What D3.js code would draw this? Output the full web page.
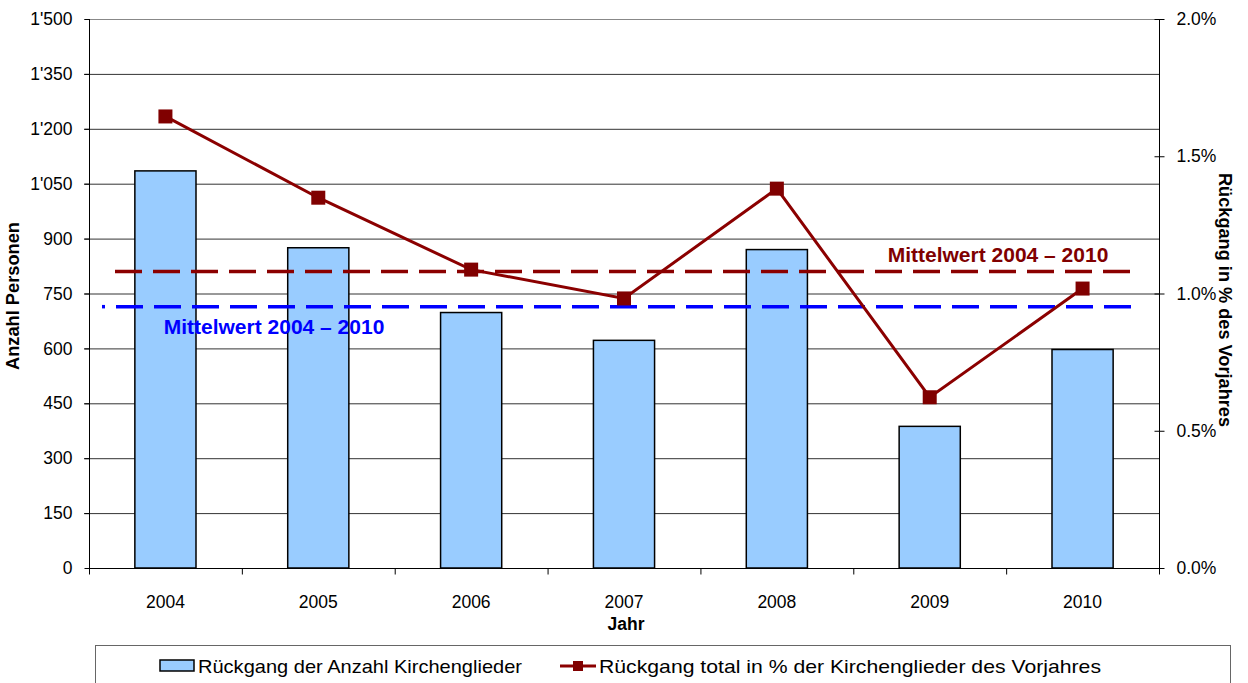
<!DOCTYPE html>
<html>
<head>
<meta charset="utf-8">
<script src="https://cdn.jsdelivr.net/npm/d3@7"></script>
<style>
  body { margin: 0; background: #fff; }
  svg { font-family: "Liberation Sans", Arial, sans-serif; }
</style>
</head>
<body>
<svg id="chart" width="1248" height="683"></svg>
<script>
// data
const years = ["2004", "2005", "2006", "2007", "2008", "2009", "2010"]
const decreaseCount = [1085, 875, 698, 622, 870, 387, 597]
const decreasePct = [1.645, 1.349, 1.087, 0.982, 1.382, 0.622, 1.018]
const meanCount = 714
const meanPct = 1.08
const leftTicks = [0, 150, 300, 450, 600, 750, 900, 1050, 1200, 1350, 1500]
const rightTicks = [0, 0.5, 1.0, 1.5, 2.0]
const meanLabel = "Mittelwert 2004 – 2010"
const legendLabels = ["Rückgang der Anzahl Kirchenglieder", "Rückgang total in % der Kirchenglieder des Vorjahres"]

const svg = d3.select("#chart")
const m = {left: 89, right: 1159, top: 19, bottom: 568}

const x = d3.scaleBand().domain(years).range([m.left, m.right]).paddingInner(0.6).paddingOuter(0.3)
const xBand = d3.scaleBand().domain(years).range([m.left, m.right])
const yL = d3.scaleLinear().domain([0, 1500]).range([m.bottom, m.top])
const yR = d3.scaleLinear().domain([0, 2]).range([m.bottom, m.top])

const fmtL = d => d >= 1000 ? Math.floor(d / 1000) + "'" + d3.format("03d")(d % 1000) : String(d)

// gridlines
svg.append("g").selectAll("line")
  .data(leftTicks.slice(1))
  .enter().append("line")
    .attr("x1", m.left - 5).attr("x2", m.right)
    .attr("y1", d => yL(d) + 0.5).attr("y2", d => yL(d) + 0.5)
    .attr("stroke", d => d === 1500 ? "#888" : "#333")
    .attr("stroke-width", 1)

// left axis
const gL = svg.append("g").attr("transform", `translate(${m.left + 0.5},0)`)
  .call(d3.axisLeft(yL).tickValues(leftTicks).tickFormat(fmtL).tickSize(5).tickPadding(12))
gL.select(".domain").attr("stroke", "#000").attr("d", `M0,${m.top}V${m.bottom}`)
gL.selectAll("text").attr("font-size", 17.5).attr("fill", "#000")
  .attr("font-family", "Liberation Sans, Arial, sans-serif")

// right axis
const gR = svg.append("g").attr("transform", `translate(${m.right + 0.5},0)`)
  .call(d3.axisRight(yR).tickValues(rightTicks).tickFormat(d => d.toFixed(1) + "%").tickSize(5).tickPadding(12))
gR.select(".domain").attr("stroke", "#000").attr("d", `M0,${m.top}V${m.bottom + 5}`)
gR.selectAll(".tick line").attr("x1", -5).attr("x2", 5)
gR.selectAll("text").attr("font-size", 17.5).attr("fill", "#000")
  .attr("font-family", "Liberation Sans, Arial, sans-serif")

// x axis
const gX = svg.append("g").attr("transform", `translate(0,${m.bottom + 0.5})`)
gX.append("line").attr("x1", m.left).attr("x2", m.right).attr("stroke", "#000")
gX.selectAll(".tk").data(years.concat(["end"])).enter().append("line")
  .attr("x1", (d, i) => m.left + i * xBand.bandwidth() + 0.5)
  .attr("x2", (d, i) => m.left + i * xBand.bandwidth() + 0.5)
  .attr("y1", 0).attr("y2", 6).attr("stroke", "#000")
gX.selectAll("text").data(years).enter().append("text")
  .attr("x", d => xBand(d) + xBand.bandwidth() / 2)
  .attr("y", 39).attr("text-anchor", "middle").attr("font-size", 17.5)
  .text(d => d)

// bars
svg.append("g").selectAll("rect")
  .data(years)
  .enter().append("rect")
    .attr("x", d => x(d))
    .attr("y", (d, i) => yL(decreaseCount[i]))
    .attr("width", x.bandwidth())
    .attr("height", (d, i) => m.bottom - yL(decreaseCount[i]))
    .attr("fill", "#99ccff")
    .attr("stroke", "#000")
    .attr("stroke-width", 1.5)

// mean lines
svg.append("line")
  .attr("x1", 115).attr("x2", 1137)
  .attr("y1", yR(meanPct)).attr("y2", yR(meanPct))
  .attr("stroke", "#8b0000").attr("stroke-width", 3.5).attr("stroke-dasharray", "27,11")
svg.append("line")
  .attr("x1", 102).attr("x2", 105)
  .attr("y1", yL(meanCount)).attr("y2", yL(meanCount))
  .attr("stroke", "#0000ff").attr("stroke-width", 3.5)
svg.append("line")
  .attr("x1", 116).attr("x2", 1137)
  .attr("y1", yL(meanCount)).attr("y2", yL(meanCount))
  .attr("stroke", "#0000ff").attr("stroke-width", 3.5).attr("stroke-dasharray", "27,11")

svg.append("text").attr("x", 998).attr("y", yR(meanPct) - 10)
  .attr("text-anchor", "middle").attr("font-size", 21).attr("font-weight", "bold")
  .attr("fill", "#800000").text(meanLabel)
svg.append("text").attr("x", 274).attr("y", yL(meanCount) + 27)
  .attr("text-anchor", "middle").attr("font-size", 21).attr("font-weight", "bold")
  .attr("fill", "#0000ff").text(meanLabel)

// percentage line
const line = d3.line()
  .x((d, i) => xBand(years[i]) + xBand.bandwidth() / 2)
  .y(d => yR(d))
svg.append("path").datum(decreasePct)
  .attr("d", line).attr("fill", "none")
  .attr("stroke", "#8b0000").attr("stroke-width", 3)
svg.append("g").selectAll("rect")
  .data(decreasePct)
  .enter().append("rect")
    .attr("x", (d, i) => xBand(years[i]) + xBand.bandwidth() / 2 - 7)
    .attr("y", d => yR(d) - 7)
    .attr("width", 14).attr("height", 14)
    .attr("fill", "#800000")

// axis titles
svg.append("text")
  .attr("transform", `translate(19,296) rotate(-90)`)
  .attr("text-anchor", "middle").attr("font-size", 17.5).attr("font-weight", "bold")
  .attr("textLength", 148).attr("lengthAdjust", "spacingAndGlyphs")
  .text("Anzahl Personen")
svg.append("text")
  .attr("transform", `translate(1219,300) rotate(90)`)
  .attr("text-anchor", "middle").attr("font-size", 17.5).attr("font-weight", "bold")
  .attr("textLength", 254).attr("lengthAdjust", "spacingAndGlyphs")
  .text("Rückgang in % des Vorjahres")
svg.append("text")
  .attr("x", 626).attr("y", 630)
  .attr("text-anchor", "middle").attr("font-size", 17.5).attr("font-weight", "bold")
  .text("Jahr")

// legend
const leg = svg.append("g")
leg.append("rect").attr("x", 95.5).attr("y", 645.5).attr("width", 1135).attr("height", 60)
  .attr("fill", "#fff").attr("stroke", "#666")
leg.append("rect").attr("x", 160).attr("y", 660).attr("width", 34).attr("height", 11)
  .attr("fill", "#99ccff").attr("stroke", "#000").attr("stroke-width", 1.5)
leg.append("text").attr("x", 198).attr("y", 673).attr("font-size", 19)
  .attr("textLength", 324).attr("lengthAdjust", "spacingAndGlyphs").text(legendLabels[0])
leg.append("line").attr("x1", 560).attr("x2", 596).attr("y1", 666).attr("y2", 666)
  .attr("stroke", "#8b0000").attr("stroke-width", 3)
leg.append("rect").attr("x", 573).attr("y", 661).attr("width", 10).attr("height", 10).attr("fill", "#800000")
leg.append("text").attr("x", 599).attr("y", 673).attr("font-size", 19)
  .attr("textLength", 502).attr("lengthAdjust", "spacingAndGlyphs").text(legendLabels[1])
</script>
</body>
</html>
